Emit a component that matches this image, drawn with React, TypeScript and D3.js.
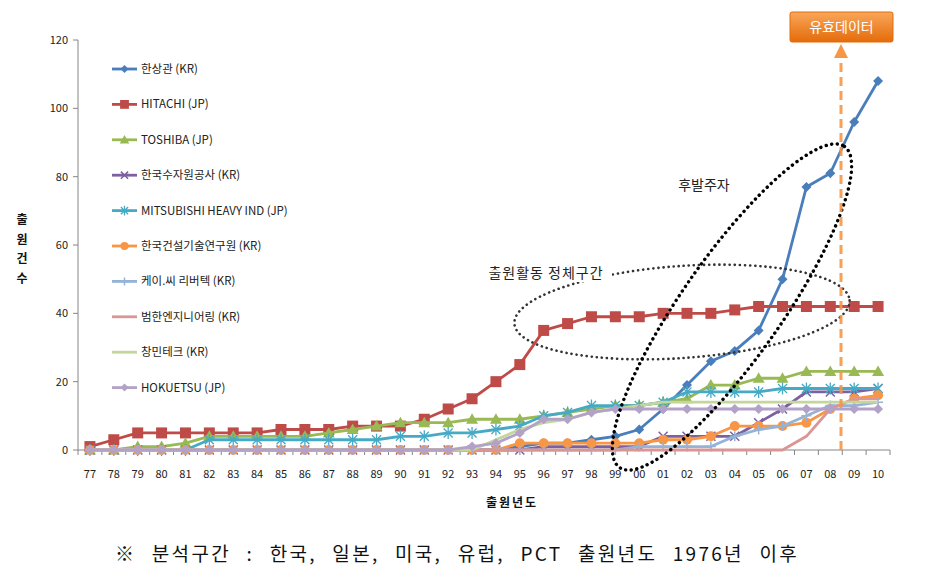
import React from 'react'
import * as d3 from 'd3'

const years = [
	'77', '78', '79', '80', '81', '82', '83', '84', '85', '86', '87', '88',
	'89', '90', '91', '92', '93', '94', '95', '96', '97', '98', '99', '00',
	'01', '02', '03', '04', '05', '06', '07', '08', '09', '10'
]

const hanSangGwan = [0, 0, 0, 0, 0, 0, 0, 0, 0, 0, 0, 0, 0, 0, 0, 0, 0, 0, 1, 2, 2, 3, 4, 6, 12, 19, 26, 29, 35, 50, 77, 81, 96, 108]
const hitachi = [1, 3, 5, 5, 5, 5, 5, 5, 6, 6, 6, 7, 7, 7, 9, 12, 15, 20, 25, 35, 37, 39, 39, 39, 40, 40, 40, 41, 42, 42, 42, 42, 42, 42]
const toshiba = [0, 0, 1, 1, 2, 4, 4, 4, 4, 4, 5, 6, 7, 8, 8, 8, 9, 9, 9, 10, 11, 12, 13, 13, 14, 15, 19, 19, 21, 21, 23, 23, 23, 23]
const sujawon = [0, 0, 0, 0, 0, 0, 0, 0, 0, 0, 0, 0, 0, 0, 0, 0, 0, 0, 0, 1, 1, 1, 1, 1, 4, 4, 4, 4, 8, 12, 17, 17, 17, 18]
const mitsubishi = [0, 0, 0, 0, 0, 3, 3, 3, 3, 3, 3, 3, 3, 4, 4, 5, 5, 6, 7, 10, 11, 13, 13, 13, 14, 17, 17, 17, 17, 18, 18, 18, 18, 18]
const kict = [0, 0, 0, 0, 0, 0, 0, 0, 0, 0, 0, 0, 0, 0, 0, 0, 0, 0, 2, 2, 2, 2, 2, 2, 3, 3, 4, 7, 7, 7, 8, 12, 15, 16]
const kcRivertec = [0, 0, 0, 0, 0, 0, 0, 0, 0, 0, 0, 0, 0, 0, 0, 0, 0, 0, 0, 0, 0, 0, 0, 1, 1, 1, 1, 4, 6, 7, 10, 13, 13, 14]
const beomhan = [0, 0, 0, 0, 0, 0, 0, 0, 0, 0, 0, 0, 0, 0, 0, 0, 0, 0, 0, 0, 0, 0, 0, 0, 0, 0, 0, 0, 0, 0, 4, 12, 15, 15]
const changmin = [0, 0, 0, 0, 0, 0, 0, 0, 0, 0, 0, 0, 0, 0, 0, 0, 0, 3, 6, 8, 9, 11, 12, 13, 14, 14, 14, 14, 14, 14, 14, 14, 14, 14]
const hokuetsu = [0, 0, 0, 0, 0, 0, 0, 0, 0, 0, 0, 0, 0, 0, 0, 0, 1, 2, 5, 9, 9, 11, 12, 12, 12, 12, 12, 12, 12, 12, 12, 12, 12, 12]

const yTicks = [0, 20, 40, 60, 80, 100, 120]

type Marker = 'diamond' | 'square' | 'triangle' | 'x' | 'asterisk' | 'circle' | 'plus' | 'none'

interface ISeries {
	name: string
	values: number[]
	color: string
	marker: Marker
}

const series: ISeries[] = [
	{ name: '한상관 (KR)', values: hanSangGwan, color: '#4a7ebb', marker: 'diamond' },
	{ name: 'HITACHI (JP)', values: hitachi, color: '#be4b48', marker: 'square' },
	{ name: 'TOSHIBA (JP)', values: toshiba, color: '#98b954', marker: 'triangle' },
	{ name: '한국수자원공사 (KR)', values: sujawon, color: '#7d60a0', marker: 'x' },
	{ name: 'MITSUBISHI HEAVY IND (JP)', values: mitsubishi, color: '#46aac5', marker: 'asterisk' },
	{ name: '한국건설기술연구원 (KR)', values: kict, color: '#f79646', marker: 'circle' },
	{ name: '케이.씨 리버텍 (KR)', values: kcRivertec, color: '#95b3d7', marker: 'plus' },
	{ name: '범한엔지니어링 (KR)', values: beomhan, color: '#d99694', marker: 'none' },
	{ name: '창민테크 (KR)', values: changmin, color: '#c3d69b', marker: 'none' },
	{ name: 'HOKUETSU (JP)', values: hokuetsu, color: '#b3a2c7', marker: 'diamond' }
]

const W = 933
const H = 571
const FONT = '"Noto Sans CJK KR", "Noto Sans", sans-serif'

const x = d3.scaleBand<string>().domain(years).range([78, 890])
const y = d3.scaleLinear().domain([0, 120]).range([450, 40])
const cx = (c: string) => (x(c) as number) + x.bandwidth() / 2

const MarkerShape: React.FC<{ type: Marker; color: string; s?: number }> = ({ type, color, s = 1 }) => {
	switch (type) {
		case 'diamond':
			return <path d={`M0,${-5 * s}L${5 * s},0L0,${5 * s}L${-5 * s},0Z`} fill={color} />
		case 'square':
			return <rect x={-5.5 * s} y={-5.5 * s} width={11 * s} height={11 * s} fill={color} />
		case 'triangle':
			return <path d={`M0,${-6 * s}L${6 * s},${4.5 * s}L${-6 * s},${4.5 * s}Z`} fill={color} />
		case 'circle':
			return <circle r={5 * s} fill={color} />
		case 'x':
			return (
				<path d={`M${-4.5 * s},${-4.5 * s}L${4.5 * s},${4.5 * s}M${-4.5 * s},${4.5 * s}L${4.5 * s},${-4.5 * s}`} stroke={color} strokeWidth={1.5} />
			)
		case 'asterisk':
			return (
				<path
					d={`M${-4.5 * s},${-4.5 * s}L${4.5 * s},${4.5 * s}M${-4.5 * s},${4.5 * s}L${4.5 * s},${-4.5 * s}M0,${-6 * s}L0,${6 * s}`}
					stroke={color}
					strokeWidth={1.3}
				/>
			)
		case 'plus':
			return <path d={`M${-5 * s},0L${5 * s},0M0,${-5 * s}L0,${5 * s}`} stroke={color} strokeWidth={1.5} />
		default:
			return null
	}
}

const App: React.FC = () => {
	const line = d3
		.line<number>()
		.x((_, i) => cx(years[i]))
		.y((d) => y(d))

	const bw = x.bandwidth()
	const boundaries = d3.range(years.length + 1).map((i) => 78 + bw * i)

	return (
		<svg width={W} height={H} style={{ position: 'absolute', left: 0, top: 0, background: '#fff' }} fontFamily={FONT}>
			<defs>
				<linearGradient id="boxGrad" x1="0" y1="0" x2="0" y2="1">
					<stop offset="0%" stopColor="#f9a65a" />
					<stop offset="100%" stopColor="#e46c0a" />
				</linearGradient>
			</defs>
			<rect width={W} height={H} fill="#fff" />

			{/* y axis */}
			<line x1={78} x2={78} y1={y(120)} y2={y(0)} stroke="#868686" />
			{yTicks.map((t) => (
				<g key={t}>
					<line x1={73} x2={78} y1={y(t)} y2={y(t)} stroke="#868686" />
					<text x={68} y={y(t) + 4} textAnchor="end" fontSize={11} fill="#222">
						{t}
					</text>
				</g>
			))}

			{/* x axis */}
			<line x1={78} x2={890} y1={y(0)} y2={y(0)} stroke="#868686" />
			{boundaries.map((b, i) => (
				<line key={i} x1={b} x2={b} y1={y(0)} y2={y(0) + 5} stroke="#868686" />
			))}
			{years.map((c) => (
				<text key={c} x={cx(c)} y={478} textAnchor="middle" fontSize={11} fill="#222">
					{c}
				</text>
			))}

			{/* axis titles */}
			{['출', '원', '건', '수'].map((ch, i) => (
				<text key={ch} x={22} y={224 + i * 19.5} textAnchor="middle" fontSize={12} fontWeight="bold" fill="#111">
					{ch}
				</text>
			))}
			<text x={512} y={507} textAnchor="middle" fontSize={12} fontWeight="bold" fill="#111" letterSpacing={2}>
				출원년도
			</text>

			{/* series */}
			{series.map((s) => (
				<g key={s.name}>
					<path d={line(s.values) || ''} fill="none" stroke={s.color} strokeWidth={2.8} strokeLinejoin="round" />
					{s.values.map((v, i) => (
						<g key={i} transform={`translate(${cx(years[i])},${y(v)})`}>
							<MarkerShape type={s.marker} color={s.color} />
						</g>
					))}
				</g>
			))}

			{/* legend */}
			{series.map((s, i) => {
				const ly = 69 + i * 35.4
				return (
					<g key={s.name} transform={`translate(112,${ly})`}>
						<line x1={0} x2={25} y1={0} y2={0} stroke={s.color} strokeWidth={2.8} />
						<g transform="translate(12.5,0)">
							<MarkerShape type={s.marker} color={s.color} s={0.8} />
						</g>
						<text x={29} y={4} fontSize={11.5} fill="#222">
							{s.name}
						</text>
					</g>
				)
			})}

			{/* annotations */}
			<ellipse
				cx={682}
				cy={312}
				rx={168}
				ry={46}
				transform="rotate(-4 682 312)"
				fill="none"
				stroke="#333"
				strokeWidth={2.6}
				strokeDasharray="0.1 5"
				strokeLinecap="round"
			/>
			<ellipse
				cx={732}
				cy={307}
				rx={196}
				ry={50}
				transform="rotate(-55 732 307)"
				fill="none"
				stroke="#000"
				strokeWidth={3.4}
				strokeDasharray="0.1 5.5"
				strokeLinecap="round"
			/>
			<text x={704} y={190} textAnchor="middle" fontSize={14} fill="#222">
				후발주자
			</text>
			<rect x={482} y={262} width={130} height={20} fill="#fff" />
			<text x={546} y={278} textAnchor="middle" fontSize={14} fill="#222" letterSpacing={1}>
				출원활동 정체구간
			</text>

			{/* valid data marker */}
			<line x1={841} x2={841} y1={450} y2={58} stroke="#f79646" strokeWidth={3} strokeDasharray="9 5" opacity={0.9} />
			<path d="M841,44L848,58L834,58Z" fill="#f79646" />
			<rect x={790} y={12} width={103} height={30} rx={2} fill="url(#boxGrad)" stroke="#e46c0a" />
			<text x={841.5} y={32} textAnchor="middle" fontSize={14} fill="#fff">
				유효데이터
			</text>

			{/* footer */}
			<text x={457} y={561} textAnchor="middle" fontSize={19} fill="#111" letterSpacing={2.3} wordSpacing={9}>
				※ 분석구간 : 한국, 일본, 미국, 유럽, PCT 출원년도 1976년 이후
			</text>
		</svg>
	)
}

export default App
